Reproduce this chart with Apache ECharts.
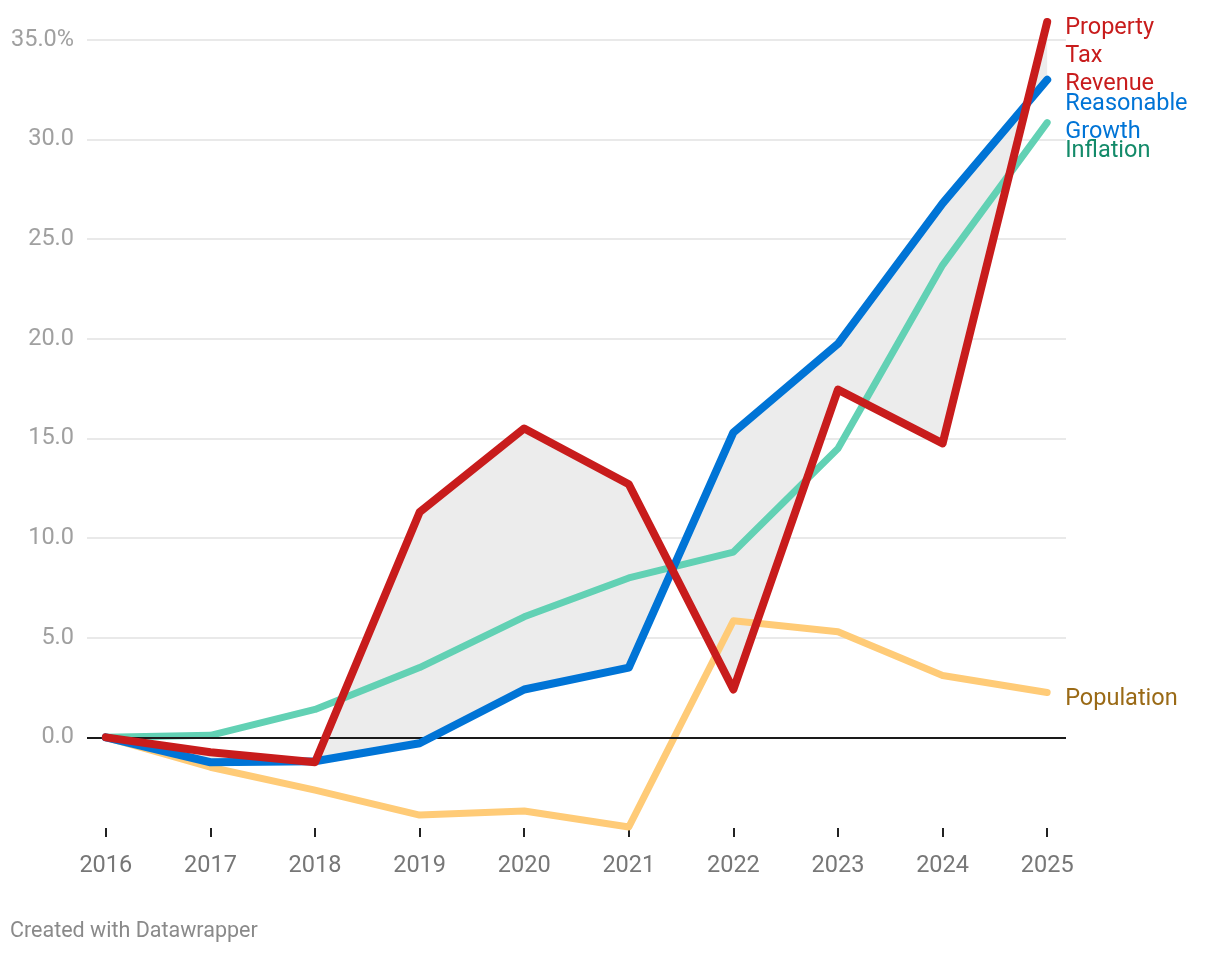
<!DOCTYPE html>
<html>
<head>
<meta charset="utf-8">
<script src="https://cdn.jsdelivr.net/npm/echarts@6/dist/echarts.min.js"></script>
<style>
html,body{margin:0;padding:0;background:#fff;}
#chart{width:1220px;height:954px;}
</style>
</head>
<body>
<div id="chart"></div>
<script>
const years = [2016, 2017, 2018, 2019, 2020, 2021, 2022, 2023, 2024, 2025];
const propertyTax = [0, -0.75, -1.25, 11.3, 15.5, 12.7, 2.4, 17.45, 14.75, 35.9];
const reasonableGrowth = [0, -1.25, -1.2, -0.3, 2.4, 3.5, 15.3, 19.75, 26.8, 33.0];
const inflation = [0, 0.1, 1.4, 3.5, 6.05, 8.0, 9.3, 14.5, 23.7, 30.85];
const population = [0, -1.5, -2.65, -3.9, -3.7, -4.5, 5.85, 5.3, 3.1, 2.25];
const yTicks = [0, 5, 10, 15, 20, 25, 30, 35];

const FONT = 'Roboto';
const FS = 23.5;
const chart = echarts.init(document.getElementById('chart'));

function pairs(vals) { return years.map((y, i) => [y, vals[i]]); }

function lineSeries(name, vals, color, width, labelColor, offsetY, z) {
  return {
    type: 'line', name: name, data: pairs(vals), z: z,
    symbol: 'none', smooth: false,
    lineStyle: { color: color, width: width, cap: 'round', join: 'round' },
    endLabel: {
      show: true, formatter: name, color: labelColor,
      fontFamily: FONT, fontSize: FS, lineHeight: 28,
      distance: 18, offset: [0, offsetY], align: 'left'
    }
  };
}

const option = {
  animation: false,
  backgroundColor: '#ffffff',
  textStyle: { fontFamily: FONT },
  grid: { left: 87, right: 154, top: 20, bottom: 126, containLabel: false },
  xAxis: {
    type: 'value', min: 2015.82, max: 2025.18,
    splitLine: { show: false },
    axisLine: { show: false, onZero: false },
    axisTick: { show: true, customValues: years, length: 9, lineStyle: { color: '#222', width: 2 } },
    axisLabel: { customValues: years, color: '#777', fontSize: FS, fontFamily: FONT, margin: 26,
      formatter: v => String(v) }
  },
  yAxis: {
    type: 'value', min: -4.55, max: 36,
    axisLine: { show: false },
    axisTick: { show: false, customValues: yTicks },
    splitLine: { show: true, lineStyle: { color: '#e2e2e2', width: 1.5 } },
    axisLabel: { customValues: yTicks, color: '#a0a0a0', fontSize: FS, fontFamily: FONT, margin: 13,
      formatter: v => (v === 35 ? '35.0%' : v.toFixed(1)) }
  },
  series: [
    {
      type: 'custom', z: 1, silent: true,
      data: [[0]],
      renderItem: function (params, api) {
        const pts = [];
        for (let i = 0; i < years.length; i++) pts.push(api.coord([years[i], propertyTax[i]]));
        for (let i = years.length - 1; i >= 0; i--) pts.push(api.coord([years[i], reasonableGrowth[i]]));
        return { type: 'polygon', shape: { points: pts }, style: { fill: '#ececec', stroke: null } };
      }
    },
    Object.assign(lineSeries('Population', population, '#ffcb77', 7, '#9a6a16', 7, 3), {
      markLine: {
        silent: true, symbol: 'none', label: { show: false },
        lineStyle: { color: '#1a1a1a', width: 2, type: 'solid' },
        data: [{ yAxis: 0 }]
      }
    }),
    lineSeries('Inflation', inflation, '#62d1b4', 7, '#138a69', 29, 4),
    lineSeries('Reasonable\nGrowth', reasonableGrowth, '#0074d6', 8, '#0074d6', 38, 5),
    lineSeries('Property\nTax\nRevenue', propertyTax, '#c81c1c', 8, '#c81c1c', 34, 6)
  ],
  graphic: [{
    type: 'text', left: 10, top: 921,
    style: { text: 'Created with Datawrapper', fill: '#8a8a8a', fontSize: 21.5, fontFamily: FONT }
  }]
};
chart.setOption(option);
</script>
</body>
</html>
